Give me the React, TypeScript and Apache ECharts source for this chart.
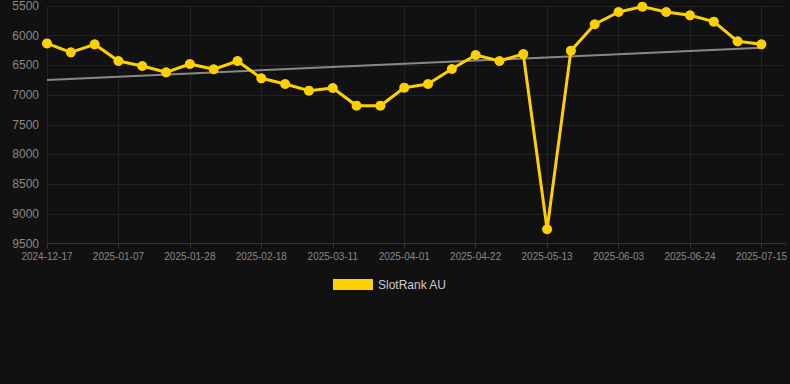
import React, { useEffect, useRef } from "react";
import * as echarts from "echarts";

const categories = [
  "2024-12-17", "2024-12-24", "2024-12-31", "2025-01-07", "2025-01-14", "2025-01-21",
  "2025-01-28", "2025-02-04", "2025-02-11", "2025-02-18", "2025-02-25", "2025-03-04",
  "2025-03-11", "2025-03-18", "2025-03-25", "2025-04-01", "2025-04-08", "2025-04-15",
  "2025-04-22", "2025-04-29", "2025-05-06", "2025-05-13", "2025-05-20", "2025-05-27",
  "2025-06-03", "2025-06-10", "2025-06-17", "2025-06-24", "2025-07-01", "2025-07-08",
  "2025-07-15", "2025-07-22",
];

const rankValues = [
  6130, 6280, 6145, 6426, 6510, 6617, 6477, 6566, 6426, 6718, 6814, 6926,
  6881, 7179, 7179, 6876, 6814, 6561, 6325, 6426, 6308, 9260, 6252, 5808,
  5601, 5511, 5601, 5657, 5764, 6095, 6145,
];

const trendStart = 6746;
const trendEnd = 6202;
const trendValues = rankValues.map((_, i) =>
  i === 0 ? trendStart : i === rankValues.length - 1 ? trendEnd : null
);

const yTicks = { min: 5500, max: 9500, interval: 500 };

export default function App() {
  const ref = useRef<HTMLDivElement>(null);
  useEffect(() => {
    if (!ref.current) return;
    const chart = echarts.init(ref.current, null, { renderer: "svg" });
    chart.setOption({
      animation: false,
      backgroundColor: "#111111",
      textStyle: { fontFamily: "Arial, Liberation Sans, sans-serif" },
      grid: { left: 47, right: 4, top: 6, bottom: 140.5, containLabel: false },
      legend: {
        data: ["SlotRank AU"],
        left: 328,
        top: 273.5,
        icon: "rect",
        itemWidth: 40,
        itemHeight: 11,
        itemGap: 10,
        textStyle: { color: "#cccccc", fontSize: 12 },
      },
      xAxis: {
        type: "category",
        data: categories,
        boundaryGap: false,
        axisLine: { show: true, lineStyle: { color: "#333333" } },
        axisTick: { show: true, interval: 2, lineStyle: { color: "#333333" } },
        axisLabel: { interval: 2, color: "#888888", fontSize: 10, margin: 8 },
        splitLine: { show: true, interval: 2, lineStyle: { color: "#222222" } },
      },
      yAxis: {
        type: "value",
        inverse: true,
        min: yTicks.min,
        max: yTicks.max,
        interval: yTicks.interval,
        axisLine: { show: false },
        axisTick: { show: false },
        axisLabel: {
          color: "#888888",
          fontSize: 12,
          margin: 8,
          formatter: (v: number) => String(v),
        },
        splitLine: { show: true, lineStyle: { color: "#222222" } },
      },
      series: [
        {
          name: "SlotRank AU",
          type: "line",
          data: rankValues,
          symbol: "circle",
          symbolSize: 10,
          itemStyle: { color: "#ffd000" },
          lineStyle: { color: "#ffd000", width: 3 },
          z: 3,
        },
        {
          name: "Trend",
          type: "line",
          data: trendValues,
          connectNulls: true,
          symbol: "none",
          lineStyle: { color: "#888888", width: 2 },
          itemStyle: { color: "#888888" },
          z: 2,
          silent: true,
        },
      ],
    });
    return () => chart.dispose();
  }, []);
  return (
    <div
      ref={ref}
      style={{ position: "fixed", left: 0, top: 0, width: 790, height: 384 }}
    />
  );
}
